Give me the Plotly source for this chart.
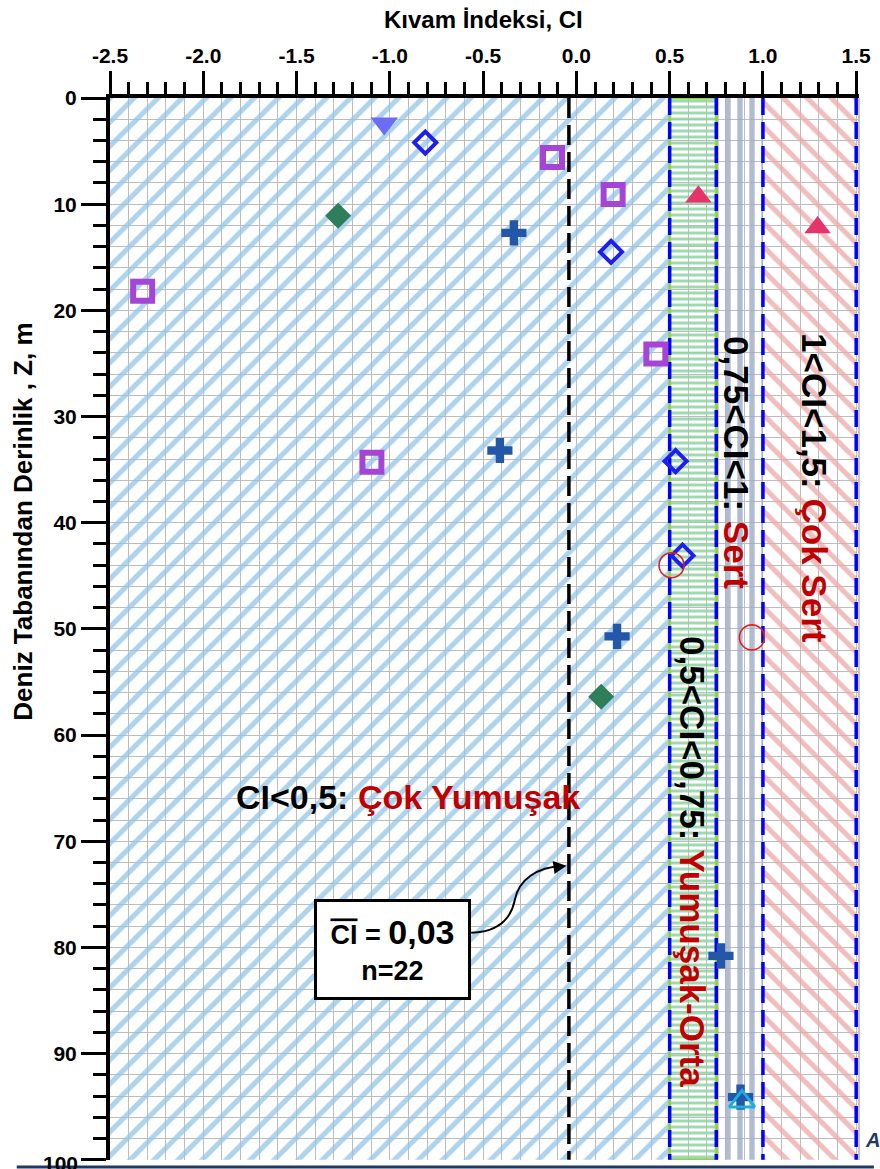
import plotly.graph_objects as go

# ---------------- data ----------------
# zone boundaries (CI)
zone_blue = [-2.5, 0.5]
zone_green = [0.5, 0.75]
zone_gray = [0.75, 1.0]
zone_red = [1.0, 1.5]
dashed_bounds = [0.5, 0.75, 1.0, 1.5]
mean_line_x = -0.04
depth_range = [0, 100]

x_tickvals = [-2.5, -2.0, -1.5, -1.0, -0.5, 0.0, 0.5, 1.0, 1.5]
x_ticktext = ["-2.5", "-2.0", "-1.5", "-1.0", "-0.5", "0.0", "0.5", "1.0", "1.5"]
z_tickvals = [0, 10, 20, 30, 40, 50, 60, 70, 80, 90]
z_last_tick = 100

tri_down_x = [-1.03]
tri_down_z = [2.4]
dia_open_x = [-0.81, 0.186, 0.532, 0.569]
dia_open_z = [4.2, 14.5, 34.2, 43.1]
sq_open_x = [-0.128, 0.197, -2.325, 0.426, -1.096]
sq_open_z = [5.6, 9.1, 18.2, 24.1, 34.3]
tri_up_x = [0.654, 1.293]
tri_up_z = [9.3, 12.2]
dia_x = [-1.277, 0.133]
dia_z = [11.1, 56.4]
cross_x = [-0.335, -0.41, 0.218, 0.775, 0.88]
cross_z = [12.7, 33.2, 50.7, 80.8, 94.1]
circ_x = [0.51, 0.941]
circ_z = [44.0, 50.8]
tri_open_x = [0.888]
tri_open_z = [94.5]

FONT = "Liberation Sans, Arial, sans-serif"
RED = "#c00000"

fig = go.Figure()

def zone(xr, shape, color, size, solidity, op=0.75):
    x0, x1 = xr
    z0, z1 = depth_range
    fig.add_trace(go.Scatter(
        x=[x0, x1, x1, x0, x0], y=[z0, z0, z1, z1, z0],
        mode="lines", line=dict(width=0), fill="toself",
        fillcolor="rgba(255,255,255,0)",
        fillpattern=dict(shape=shape, fgcolor=color, bgcolor="rgba(255,255,255,0)",
                         size=size, solidity=solidity, fgopacity=op),
        hoverinfo="skip", showlegend=False))

zone(zone_blue, "/", "#93c4e8", 17, 0.3)
zone(zone_green, "-", "#8fd3a2", 6, 0.5, 0.85)
zone(zone_gray, "|", "#9eabc7", 12, 0.45, 0.8)
zone(zone_red, "\\", "#eca8a8", 17, 0.3)

# green outline of the medium zone
gx0, gx1 = zone_green
fig.add_trace(go.Scatter(x=[gx0, gx1, gx1, gx0, gx0],
                         y=[depth_range[0], depth_range[0], depth_range[1], depth_range[1], depth_range[0]],
                         mode="lines", line=dict(color="#92d050", width=3),
                         hoverinfo="skip", showlegend=False))

# blue dashed boundaries
for b in dashed_bounds:
    fig.add_trace(go.Scatter(x=[b, b], y=depth_range, mode="lines",
                             line=dict(color="#0000ff", width=3.5, dash="17px,7px"),
                             hoverinfo="skip", showlegend=False))

# mean line
fig.add_trace(go.Scatter(x=[mean_line_x, mean_line_x], y=depth_range, mode="lines",
                         line=dict(color="black", width=3.5, dash="20px,7px"),
                         hoverinfo="skip", showlegend=False))

def pts(x, z, symbol, color, size, lw=0, lc=None):
    fig.add_trace(go.Scatter(x=x, y=z, mode="markers",
                             marker=dict(symbol=symbol, color=color, size=size,
                                         line=dict(width=lw, color=lc or color)),
                             showlegend=False))

pts(tri_down_x, tri_down_z, "triangle-down", "#6c6cf4", 24)
pts(dia_open_x, dia_open_z, "diamond-open", "#1e1ef0", 17, 4)
pts(sq_open_x, sq_open_z, "square-open", "#a445d6", 19, 6)
pts(tri_up_x, tri_up_z, "triangle-up", "#e6336c", 23)
pts(dia_x, dia_z, "diamond", "#2e7d5b", 20)
pts(cross_x, cross_z, "cross", "#2457a8", 21)
pts(circ_x, circ_z, "circle-open", "#e02020", 25, 1.6)
pts(tri_open_x, tri_open_z, "triangle-up-open", "#1aaee0", 22, 3)

tickfont = dict(family=FONT, size=21, color="black", weight="bold")

annotations = [
    dict(text="Kıvam İndeksi, CI", xref="paper", yref="paper", x=0.498, y=1 + 78 / 1062,
         showarrow=False, font=dict(family=FONT, size=24, color="black", weight="bold"),
         xanchor="center", yanchor="middle"),
    dict(text="Deniz Tabanından Derinlik , Z, m", xref="paper", yref="paper",
         x=-(110 - 22) / 755, y=(1160 - 522) / 1062, textangle=-90, showarrow=False,
         font=dict(family=FONT, size=26, color="black", weight="bold"),
         xanchor="center", yanchor="middle"),
    dict(text=str(z_last_tick), xref="paper", yref="y", x=-(110 - 80) / 755, y=z_last_tick,
         xanchor="right", yanchor="middle", yshift=-4, showarrow=False, font=tickfont),
    dict(text=f"CI<0,5: <span style='color:{RED}'>Çok Yumuşak</span>", x=-0.905, y=65.8,
         showarrow=False, font=dict(family=FONT, size=34, color="black", weight="bold")),
    dict(text=f"0,75<CI<1: <span style='color:{RED}'>Sert</span>", x=0.862, y=34.3, textangle=90,
         showarrow=False, font=dict(family=FONT, size=35, color="black", weight="bold")),
    dict(text=f"1<CI<1,5: <span style='color:{RED}'>Çok Sert</span>", x=1.277, y=36.7, textangle=90,
         showarrow=False, font=dict(family=FONT, size=35, color="black", weight="bold")),
    dict(text=f"0,5<CI<0,75: <span style='color:{RED}'>Yumuşak-Orta</span>", x=0.622, y=71.9,
         textangle=90, showarrow=False,
         font=dict(family=FONT, size=35, color="black", weight="bold")),
    dict(text="<span style='text-decoration:overline'>CI</span> = <span style='font-size:34px'>0,03</span><br>n=22",
         x=-0.987, y=80.2, showarrow=False, width=149, height=93, bgcolor="white",
         bordercolor="black", borderwidth=3, borderpad=1,
         font=dict(family=FONT, size=27, color="black", weight="bold")),
    dict(text="", x=-0.053, y=72.3, ax=-14, ay=2, showarrow=True, arrowhead=2,
         arrowsize=1.3, arrowwidth=2, arrowcolor="black"),
    dict(text="A", xref="paper", yref="paper", x=(869 - 110) / 755, y=(1160 - 1140) / 1062,
         xanchor="left", yanchor="middle", showarrow=False,
         font=dict(family=FONT, size=20, color="#1f3864", weight="bold", style="italic")),
]

shapes = [
    dict(type="path", xref="x", yref="y", layer="above",
         path="M -0.564,78.62 C -0.399,78.53 -0.346,76.93 -0.330,75.52 C -0.309,73.63 -0.213,72.41 -0.074,72.32",
         line=dict(color="black", width=2)),
    dict(type="line", xref="paper", yref="paper", x0=1.0, x1=1.0, y0=0, y1=1,
         line=dict(color="#c4c4c4", width=2)),
    dict(type="line", xref="paper", yref="paper", x0=(16 - 110) / 755, x1=(880 - 110) / 755,
         y0=-(1167 - 1160) / 1062, y1=-(1167 - 1160) / 1062,
         line=dict(color="#1f3864", width=3)),
]

fig.update_layout(
    width=880, height=1169,
    margin=dict(l=110, r=14, t=98, b=9),
    plot_bgcolor="white", paper_bgcolor="white",
    annotations=annotations, shapes=shapes,
    xaxis=dict(side="top", range=[-2.5, 1.515], tickmode="array",
               tickvals=x_tickvals, ticktext=x_ticktext,
               ticks="outside", ticklen=23, tickwidth=3, tickcolor="black",
               showline=True, linewidth=4, linecolor="black", zeroline=False,
               showgrid=True, gridcolor="#bdbdbd", gridwidth=1, tickfont=tickfont,
               minor=dict(dtick=0.1, tick0=-2.5, ticks="outside", ticklen=12, tickwidth=3,
                          tickcolor="black", showgrid=True, gridcolor="#bdbdbd", gridwidth=1)),
    yaxis=dict(range=[100.02, 0], tickmode="array", tickvals=z_tickvals + [z_last_tick],
               ticktext=[str(v) for v in z_tickvals] + [""],
               ticks="outside", ticklen=25, tickwidth=3, tickcolor="black",
               showline=True, linewidth=4, linecolor="black", zeroline=False,
               showgrid=True, gridcolor="#bdbdbd", gridwidth=1, tickfont=tickfont,
               minor=dict(dtick=2, tick0=0, ticks="outside", ticklen=13, tickwidth=3,
                          tickcolor="black", showgrid=True, gridcolor="#bdbdbd", gridwidth=1)),
)

fig.write_html("out.html")
